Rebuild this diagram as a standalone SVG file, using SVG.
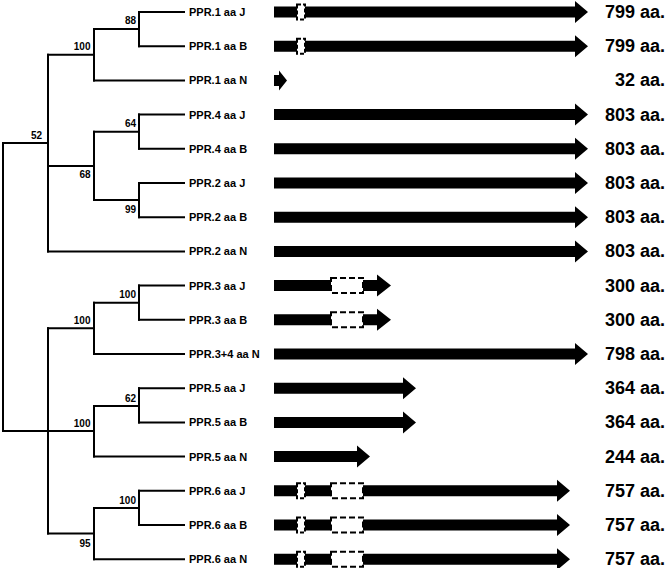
<svg xmlns="http://www.w3.org/2000/svg" width="666" height="568" viewBox="0 0 666 568">
<style>
.br{fill:none;stroke:#000;stroke-width:2;stroke-linecap:square}
.lbl{font-family:"Liberation Sans",Arial,sans-serif;font-weight:bold;font-size:11px;fill:#000}
.bs{font-family:"Liberation Sans",Arial,sans-serif;font-weight:bold;font-size:10px;fill:#000;text-anchor:end}
.len{font-family:"Liberation Sans",Arial,sans-serif;font-weight:bold;font-size:18px;fill:#000;text-anchor:end}
.ar{fill:#000}
.gap{fill:#fff;stroke:#000;stroke-width:2;stroke-dasharray:6,3}
.sgap{fill:#fff;stroke:#000;stroke-width:2;stroke-dasharray:4,2}
</style>
<rect width="666" height="568" fill="#fff"/>
<g id="connectors" class="br">
<path d="M3,143V431"/>
<path d="M3,143H48M48,54.75V251.4"/>
<path d="M48,54.75H94M94,29.1V80.4"/>
<path d="M94,29.1H139M139,12V46.2"/>
<path d="M48,165.9H94M94,131.7V200.1"/>
<path d="M94,131.7H139M139,114.6V148.8"/>
<path d="M94,200.1H139M139,183V217.2"/>
<path d="M3,431H48M48,328.35V533.5"/>
<path d="M48,328.35H94M94,302.7V354"/>
<path d="M94,302.7H139M139,285.6V319.8"/>
<path d="M48,431H94M94,406V456.6"/>
<path d="M94,406H139M139,388.2V422.4"/>
<path d="M48,533.5H94M94,507.9V559.2"/>
<path d="M94,507.9H139M139,490.8V525"/>
<path d="M139,12H184M139,46.2H184M94,80.4H184M139,114.6H184M139,148.8H184M139,183H184M139,217.2H184M48,251.4H184M139,285.6H184M139,319.8H184M94,354H184M139,388.2H184M139,422.4H184M94,456.6H184M139,490.8H184M139,525H184M94,559.2H184"/>
</g>
<g id="bootstrap">
<text class="bs" x="42" y="139">52</text>
<text class="bs" x="90.5" y="49.5">100</text>
<text class="bs" x="136" y="23.5">88</text>
<text class="bs" x="136" y="127">64</text>
<text class="bs" x="90.5" y="177.5">68</text>
<text class="bs" x="136" y="212.5">99</text>
<text class="bs" x="136" y="298">100</text>
<text class="bs" x="90.5" y="324">100</text>
<text class="bs" x="136" y="401.5">62</text>
<text class="bs" x="90.5" y="427">100</text>
<text class="bs" x="136" y="504">100</text>
<text class="bs" x="90.5" y="546.5">95</text>
</g>
<g id="n1">
<text class="lbl" x="189" y="16">PPR.1 aa J</text>
<path class="ar" d="M274,6.5H575V1L588,12L575,23V17.5H274Z"/>
<rect class="sgap" x="297" y="4.5" width="8" height="15"/>
<text class="len" x="665" y="18">799 aa.</text>
</g>
<g id="n2">
<text class="lbl" x="189" y="50.2">PPR.1 aa B</text>
<path class="ar" d="M274,40.7H575V35.2L588,46.2L575,57.2V51.7H274Z"/>
<rect class="sgap" x="297" y="38.7" width="8" height="15"/>
<text class="len" x="665" y="52.2">799 aa.</text>
</g>
<g id="n3">
<text class="lbl" x="189" y="84.4">PPR.1 aa N</text>
<path class="ar" d="M274,74.9H279V70.4L287,80.4L279,90.4V85.9H274Z"/>
<text class="len" x="665" y="86.4">32 aa.</text>
</g>
<g id="n4">
<text class="lbl" x="189" y="118.6">PPR.4 aa J</text>
<path class="ar" d="M274,109.1H575V103.6L588,114.6L575,125.6V120.1H274Z"/>
<text class="len" x="665" y="120.6">803 aa.</text>
</g>
<g id="n5">
<text class="lbl" x="189" y="152.8">PPR.4 aa B</text>
<path class="ar" d="M274,143.3H575V137.8L588,148.8L575,159.8V154.3H274Z"/>
<text class="len" x="665" y="154.8">803 aa.</text>
</g>
<g id="n6">
<text class="lbl" x="189" y="187">PPR.2 aa J</text>
<path class="ar" d="M274,177.5H575V172L588,183L575,194V188.5H274Z"/>
<text class="len" x="665" y="189">803 aa.</text>
</g>
<g id="n7">
<text class="lbl" x="189" y="221.2">PPR.2 aa B</text>
<path class="ar" d="M274,211.7H575V206.2L588,217.2L575,228.2V222.7H274Z"/>
<text class="len" x="665" y="223.2">803 aa.</text>
</g>
<g id="n8">
<text class="lbl" x="189" y="255.4">PPR.2 aa N</text>
<path class="ar" d="M274,245.9H575V240.4L588,251.4L575,262.4V256.9H274Z"/>
<text class="len" x="665" y="257.4">803 aa.</text>
</g>
<g id="n9">
<text class="lbl" x="189" y="289.6">PPR.3 aa J</text>
<path class="ar" d="M274,280.1H377V274.6L391,285.6L377,296.6V291.1H274Z"/>
<rect class="gap" x="331" y="278.1" width="32" height="15"/>
<text class="len" x="665" y="291.6">300 aa.</text>
</g>
<g id="n10">
<text class="lbl" x="189" y="323.8">PPR.3 aa B</text>
<path class="ar" d="M274,314.3H377V308.8L391,319.8L377,330.8V325.3H274Z"/>
<rect class="gap" x="331" y="312.3" width="32" height="15"/>
<text class="len" x="665" y="325.8">300 aa.</text>
</g>
<g id="n11">
<text class="lbl" x="189" y="358">PPR.3+4 aa N</text>
<path class="ar" d="M274,348.5H575V343L588,354L575,365V359.5H274Z"/>
<text class="len" x="665" y="360">798 aa.</text>
</g>
<g id="n12">
<text class="lbl" x="189" y="392.2">PPR.5 aa J</text>
<path class="ar" d="M274,382.7H403V377.2L416,388.2L403,399.2V393.7H274Z"/>
<text class="len" x="665" y="394.2">364 aa.</text>
</g>
<g id="n13">
<text class="lbl" x="189" y="426.4">PPR.5 aa B</text>
<path class="ar" d="M274,416.9H403V411.4L416,422.4L403,433.4V427.9H274Z"/>
<text class="len" x="665" y="428.4">364 aa.</text>
</g>
<g id="n14">
<text class="lbl" x="189" y="460.6">PPR.5 aa N</text>
<path class="ar" d="M274,451.1H357V445.6L370,456.6L357,467.6V462.1H274Z"/>
<text class="len" x="665" y="462.6">244 aa.</text>
</g>
<g id="n15">
<text class="lbl" x="189" y="494.8">PPR.6 aa J</text>
<path class="ar" d="M274,485.3H557V479.8L570,490.8L557,501.8V496.3H274Z"/>
<rect class="sgap" x="297" y="483.3" width="8" height="15"/>
<rect class="gap" x="331" y="483.3" width="32" height="15"/>
<text class="len" x="665" y="496.8">757 aa.</text>
</g>
<g id="n16">
<text class="lbl" x="189" y="529">PPR.6 aa B</text>
<path class="ar" d="M274,519.5H557V514L570,525L557,536V530.5H274Z"/>
<rect class="sgap" x="297" y="517.5" width="8" height="15"/>
<rect class="gap" x="331" y="517.5" width="32" height="15"/>
<text class="len" x="665" y="531">757 aa.</text>
</g>
<g id="n17">
<text class="lbl" x="189" y="563.2">PPR.6 aa N</text>
<path class="ar" d="M274,553.7H557V548.2L570,559.2L557,570.2V564.7H274Z"/>
<rect class="sgap" x="297" y="551.7" width="8" height="15"/>
<rect class="gap" x="331" y="551.7" width="32" height="15"/>
<text class="len" x="665" y="565.2">757 aa.</text>
</g>
</svg>
